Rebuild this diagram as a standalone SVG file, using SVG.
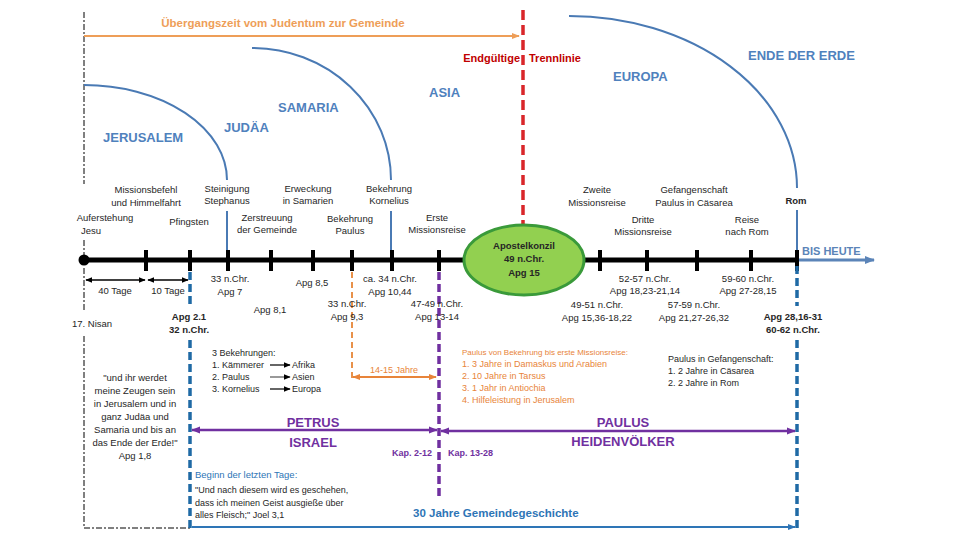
<svg xmlns="http://www.w3.org/2000/svg" width="960" height="540" viewBox="0 0 960 540">
<style>
text{font-family:"Liberation Sans",Arial,sans-serif}
.ev{font-size:9.5px;fill:#262626;text-anchor:middle}
.evs{font-size:9px;fill:#262626}
.b{font-weight:bold}
.reg{font-size:13px;font-weight:bold;fill:#4f81bd}
.pur{fill:#7030a0;font-weight:bold}
.or{fill:#e8843a}
.arc{fill:none;stroke:#4a7ab4;stroke-width:2}
</style>
<defs>
<marker id="mk" viewBox="0 0 10 10" refX="9" refY="5" markerWidth="7" markerHeight="7" markerUnits="userSpaceOnUse" orient="auto-start-reverse"><path d="M0,1 L10,5 L0,9 z" fill="#000"/></marker>
<marker id="mp" viewBox="0 0 10 10" refX="9" refY="5" markerWidth="9" markerHeight="9" markerUnits="userSpaceOnUse" orient="auto-start-reverse"><path d="M0,1 L10,5 L0,9 z" fill="#7030a0"/></marker>
<marker id="mo" viewBox="0 0 10 10" refX="9" refY="5" markerWidth="8" markerHeight="8" markerUnits="userSpaceOnUse" orient="auto-start-reverse"><path d="M0,1 L10,5 L0,9 z" fill="#e8843a"/></marker>
<marker id="mo2" viewBox="0 0 10 10" refX="9" refY="5" markerWidth="8" markerHeight="8" markerUnits="userSpaceOnUse" orient="auto"><path d="M0,1 L10,5 L0,9 z" fill="#ee9e58"/></marker>
<marker id="mb" viewBox="0 0 10 10" refX="9" refY="5" markerWidth="8" markerHeight="8" markerUnits="userSpaceOnUse" orient="auto"><path d="M0,1 L10,5 L0,9 z" fill="#2e75b6"/></marker>
<marker id="ms" viewBox="0 0 10 10" refX="9" refY="5" markerWidth="10" markerHeight="10" markerUnits="userSpaceOnUse" orient="auto"><path d="M0,1 L10,5 L0,9 z" fill="#5b84b8"/></marker>
</defs>

<g id="connectors">
  <g stroke="#000" stroke-width="1" stroke-dasharray="6 2 2 2" fill="none">
    <path d="M84,12 V184 M84,240 V255 M84,268 V312 M84,336 V528 H190"/>
  </g>
  <line x1="84" y1="36" x2="519" y2="36" stroke="#ee9e58" stroke-width="2" marker-end="url(#mo2)"/>
  <line x1="523" y1="10" x2="523" y2="224" stroke="#d9262a" stroke-width="3.5" stroke-dasharray="10 5"/>
  <path class="arc" d="M84,85 A143,95 0 0 1 227,180 M227,211 V250"/>
  <path class="arc" d="M252,48 A139,132 0 0 1 391,180 M391,211 V250"/>
  <path class="arc" d="M569,16 A228,172 0 0 1 797,188 M797,210 V250"/>
  <line x1="84" y1="260" x2="797" y2="260" stroke="#000" stroke-width="5"/>
  <g stroke="#000" stroke-width="4">
    <line x1="146" y1="250" x2="146" y2="271"/>
    <line x1="190" y1="250" x2="190" y2="271"/>
    <line x1="228" y1="250" x2="228" y2="271"/>
    <line x1="271" y1="250" x2="271" y2="271"/>
    <line x1="313" y1="250" x2="313" y2="271"/>
    <line x1="352" y1="250" x2="352" y2="271"/>
    <line x1="392" y1="250" x2="392" y2="271"/>
    <line x1="439" y1="250" x2="439" y2="271"/>
    <line x1="600" y1="250" x2="600" y2="271"/>
    <line x1="647" y1="250" x2="647" y2="271"/>
    <line x1="697" y1="250" x2="697" y2="271"/>
    <line x1="751" y1="250" x2="751" y2="271"/>
    <line x1="797" y1="250" x2="797" y2="271"/>
  </g>
  <circle cx="84" cy="260" r="5.5" fill="#000"/>
  <line x1="799" y1="260" x2="874" y2="260" stroke="#5b84b8" stroke-width="3" marker-end="url(#ms)"/>
  <line x1="86" y1="280" x2="145" y2="280" stroke="#000" stroke-width="1.5" marker-start="url(#mk)" marker-end="url(#mk)"/>
  <line x1="148" y1="280" x2="188" y2="280" stroke="#000" stroke-width="1.5" marker-start="url(#mk)" marker-end="url(#mk)"/>
  <path d="M190,272 V304 M190,340 V528" stroke="#1f6aa5" stroke-width="3.5" stroke-dasharray="8 4" fill="none"/>
  <path d="M797,266 V306 M797,340 V530" stroke="#1f6aa5" stroke-width="3.5" stroke-dasharray="8 4" fill="none"/>
  <line x1="352" y1="272" x2="352" y2="378" stroke="#e8914a" stroke-width="2" stroke-dasharray="6 4"/>
  <line x1="439" y1="272" x2="439" y2="497" stroke="#7030a0" stroke-width="3.5" stroke-dasharray="8 4"/>
  <line x1="353" y1="377" x2="436" y2="377" stroke="#e8843a" stroke-width="2" marker-start="url(#mo)" marker-end="url(#mo)"/>
  <line x1="192" y1="430" x2="437" y2="430" stroke="#7030a0" stroke-width="2.5" marker-start="url(#mp)" marker-end="url(#mp)"/>
  <line x1="441" y1="431" x2="795" y2="431" stroke="#7030a0" stroke-width="2.5" marker-start="url(#mp)" marker-end="url(#mp)"/>
  <line x1="192" y1="527" x2="795" y2="527" stroke="#2e75b6" stroke-width="2" marker-end="url(#mb)"/>
  <g stroke="#000" stroke-width="1.2">
    <line x1="270" y1="365" x2="290" y2="365" marker-end="url(#mk)"/>
    <line x1="270" y1="377" x2="290" y2="377" stroke="#555" marker-end="url(#mk)"/>
    <line x1="270" y1="389" x2="290" y2="389" marker-end="url(#mk)"/>
  </g>
</g>

<g id="title-transition"><text x="283" y="27" text-anchor="middle" font-size="11.5" font-weight="bold" fill="#ee9e58">Übergangszeit vom Judentum zur Gemeinde</text></g>
<g id="trennlinie"><text x="520" y="62" text-anchor="end" font-size="11" font-weight="bold" fill="#c00000">Endgültige</text><text x="529" y="62" font-size="11" font-weight="bold" fill="#c00000">Trennlinie</text></g>

<g id="regions">
  <text class="reg" x="103" y="142">JERUSALEM</text>
  <text class="reg" x="224" y="132">JUDÄA</text>
  <text class="reg" x="278" y="112">SAMARIA</text>
  <text class="reg" x="429" y="97">ASIA</text>
  <text class="reg" x="613" y="81">EUROPA</text>
  <text class="reg" x="748" y="60" font-size="12.5">ENDE DER ERDE</text>
</g>

<g id="events-above">
  <text class="ev" x="105" y="221">Auferstehung</text><text class="ev" x="91" y="234">Jesu</text>
  <text class="ev" x="146" y="193">Missionsbefehl</text><text class="ev" x="146" y="206">und Himmelfahrt</text>
  <text class="ev" x="189" y="225">Pfingsten</text>
  <text class="ev" x="227" y="192">Steinigung</text><text class="ev" x="227" y="204">Stephanus</text>
  <text class="ev" x="267" y="221">Zerstreuung</text><text class="ev" x="267" y="233">der Gemeinde</text>
  <text class="ev" x="308" y="192">Erweckung</text><text class="ev" x="308" y="204">in Samarien</text>
  <text class="ev" x="350" y="222">Bekehrung</text><text class="ev" x="350" y="234">Paulus</text>
  <text class="ev" x="389" y="192">Bekehrung</text><text class="ev" x="389" y="204">Kornelius</text>
  <text class="ev" x="437" y="221">Erste</text><text class="ev" x="437" y="233">Missionsreise</text>
  <text class="ev" x="597" y="193">Zweite</text><text class="ev" x="597" y="206">Missionsreise</text>
  <text class="ev" x="694" y="193">Gefangenschaft</text><text class="ev" x="694" y="206">Paulus in Cäsarea</text>
  <text class="ev" x="643" y="223">Dritte</text><text class="ev" x="643" y="235">Missionsreise</text>
  <text class="ev" x="747" y="223">Reise</text><text class="ev" x="747" y="235">nach Rom</text>
  <text class="ev b" x="796" y="204">Rom</text>
  <text x="802" y="255" font-size="11" font-weight="bold" fill="#5b84b8">BIS HEUTE</text>
</g>

<g id="apostelkonzil">
  <ellipse cx="524" cy="260" rx="60" ry="35" fill="#92d050" stroke="#3a9a3a" stroke-width="3"/>
  <text class="ev b" x="524" y="249">Apostelkonzil</text>
  <text class="ev b" x="524" y="262">49 n.Chr.</text>
  <text class="ev b" x="524" y="276">Apg 15</text>
</g>

<g id="events-below">
  <text class="ev" x="115" y="294">40 Tage</text>
  <text class="ev" x="168" y="294">10 Tage</text>
  <text class="ev" x="92" y="327">17. Nisan</text>
  <text class="ev b" x="189" y="320">Apg 2.1</text><text class="ev b" x="189" y="333">32 n.Chr.</text>
  <text class="ev" x="230" y="282">33 n.Chr.</text><text class="ev" x="230" y="295">Apg 7</text>
  <text class="ev" x="312" y="286">Apg 8,5</text>
  <text class="ev" x="270" y="313">Apg 8,1</text>
  <text class="ev" x="390" y="282">ca. 34 n.Chr.</text><text class="ev" x="390" y="295">Apg 10,44</text>
  <text class="ev" x="347" y="307">33 n.Chr.</text><text class="ev" x="347" y="320">Apg 9,3</text>
  <text class="ev" x="437" y="307">47-49 n.Chr.</text><text class="ev" x="437" y="320">Apg 13-14</text>
  <text class="ev" x="645" y="282">52-57 n.Chr.</text><text class="ev" x="645" y="294">Apg 18,23-21,14</text>
  <text class="ev" x="748" y="282">59-60 n.Chr.</text><text class="ev" x="748" y="294">Apg 27-28,15</text>
  <text class="ev" x="597" y="308">49-51 n.Chr.</text><text class="ev" x="597" y="321">Apg 15,36-18,22</text>
  <text class="ev" x="694" y="308">57-59 n.Chr.</text><text class="ev" x="694" y="321">Apg 21,27-26,32</text>
  <text class="ev b" x="793" y="320">Apg 28,16-31</text><text class="ev b" x="793" y="333">60-62 n.Chr.</text>
</g>

<g id="quote-acts">
  <text class="ev" x="135" y="381">"und ihr werdet</text>
  <text class="ev" x="135" y="394">meine Zeugen sein</text>
  <text class="ev" x="135" y="407">in Jerusalem und in</text>
  <text class="ev" x="135" y="420">ganz Judäa und</text>
  <text class="ev" x="135" y="433">Samaria und bis an</text>
  <text class="ev" x="135" y="446">das Ende der Erde!"</text>
  <text class="ev" x="135" y="459">Apg 1,8</text>
</g>

<g id="bekehrungen">
  <text class="evs" x="212" y="356" font-size="8.5">3 Bekehrungen:</text>
  <text class="evs" x="212" y="368" font-size="8.5">1. Kämmerer</text>
  <text class="evs" x="212" y="380" font-size="8.5">2. Paulus</text>
  <text class="evs" x="212" y="392" font-size="8.5">3. Kornelius</text>
  <text class="evs" x="292" y="368" font-size="8.5">Afrika</text>
  <text class="evs" x="292" y="380" font-size="8.5">Asien</text>
  <text class="evs" x="292" y="392" font-size="8.5">Europa</text>
</g>

<g id="jahre-14-15"><text class="or" x="394" y="373" font-size="9" text-anchor="middle">14-15 Jahre</text></g>

<g id="paulus-bekehrung">
  <text class="or" x="462" y="355" font-size="8">Paulus von Bekehrung bis erste Missionsreise:</text>
  <text class="or" x="462" y="367" font-size="9">1. 3 Jahre in Damaskus und Arabien</text>
  <text class="or" x="462" y="379" font-size="9">2. 10 Jahre in Tarsus</text>
  <text class="or" x="462" y="391" font-size="9">3. 1 Jahr in Antiochia</text>
  <text class="or" x="462" y="403" font-size="9">4. Hilfeleistung in Jerusalem</text>
</g>

<g id="gefangenschaft">
  <text class="evs" x="668" y="362" font-size="8.5">Paulus in Gefangenschaft:</text>
  <text class="evs" x="668" y="374">1. 2 Jahre in Cäsarea</text>
  <text class="evs" x="668" y="386">2. 2 Jahre in Rom</text>
</g>

<g id="petrus">
  <text class="pur" x="313" y="427" font-size="13" text-anchor="middle">PETRUS</text>
  <text class="pur" x="313" y="447" font-size="13" text-anchor="middle">ISRAEL</text>
  <text class="pur" x="432" y="456" font-size="9" text-anchor="end">Kap. 2-12</text>
</g>
<g id="paulus">
  <text class="pur" x="623" y="427" font-size="13" text-anchor="middle">PAULUS</text>
  <text class="pur" x="623" y="446" font-size="13" text-anchor="middle">HEIDENVÖLKER</text>
  <text class="pur" x="448" y="456" font-size="9">Kap. 13-28</text>
</g>

<g id="letzte-tage">
  <text x="195" y="478" font-size="9.5" fill="#2e75b6">Beginn der letzten Tage:</text>
  <text class="evs" x="195" y="493" font-size="9.5">"Und nach diesem wird es geschehen,</text>
  <text class="evs" x="195" y="506" font-size="9.5">dass ich meinen Geist ausgieße über</text>
  <text class="evs" x="195" y="518" font-size="9.5">alles Fleisch;" Joel 3,1</text>
</g>

<g id="gemeindegeschichte"><text x="413" y="517" font-size="11.5" font-weight="bold" fill="#2e75b6">30 Jahre Gemeindegeschichte</text></g>
</svg>
